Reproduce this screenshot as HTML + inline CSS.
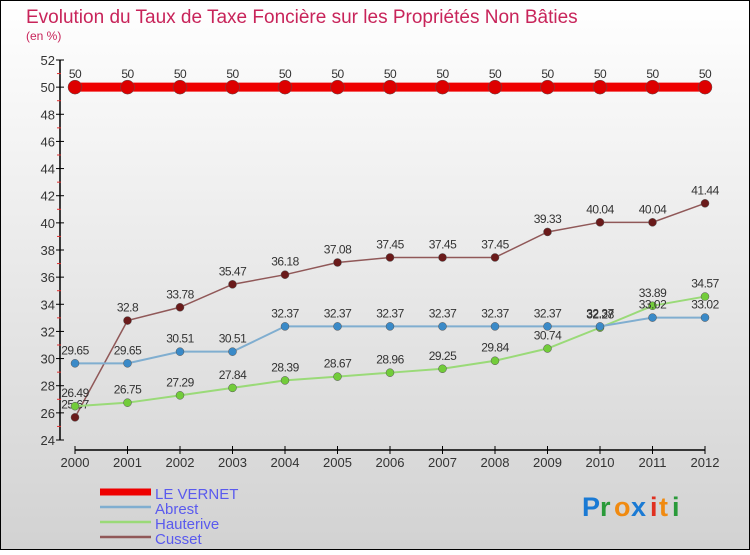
<!DOCTYPE html>
<html><head><meta charset="utf-8">
<style>
html,body{margin:0;padding:0}
body{width:750px;height:550px;overflow:hidden;font-family:"Liberation Sans",sans-serif}
svg text{font-family:"Liberation Sans",sans-serif}
</style></head>
<body>
<svg id="chart" width="750" height="550" xmlns="http://www.w3.org/2000/svg">
<defs><linearGradient id="bg" x1="0" y1="0" x2="0" y2="1"><stop offset="0" stop-color="#ffffff"/><stop offset="1" stop-color="#d2d2d2"/></linearGradient></defs>
<rect x="0.5" y="0.5" width="749" height="549" fill="url(#bg)" stroke="#000"/>
<text x="26" y="23" font-size="19" fill="#c8245a">Evolution du Taux de Taxe Foncière sur les Propriétés Non Bâties</text>
<text x="26" y="40" font-size="12" fill="#c8245a">(en %)</text>
<g id="axes"></g><g id="series"></g><g id="legend"></g>
<g font-size="27" font-weight="bold">
<text x="582" y="516" fill="#1a7ad4">P</text><text x="600" y="516" fill="#2a9a3a">r</text><text x="614" y="516" fill="#f08a10">o</text><text x="631" y="516" fill="#1a7ad4">x</text><text x="650" y="516" fill="#e03020">i</text><text x="659" y="516" fill="#f08a10">t</text><text x="672" y="516" fill="#2a9a3a">i</text>
</g>
</svg>
<script>
const years=[2000,2001,2002,2003,2004,2005,2006,2007,2008,2009,2010,2011,2012];
const leVernet=[50,50,50,50,50,50,50,50,50,50,50,50,50];
const abrest=[29.65,29.65,30.51,30.51,32.37,32.37,32.37,32.37,32.37,32.37,32.37,33.02,33.02];
const hauterive=[26.49,26.75,27.29,27.84,28.39,28.67,28.96,29.25,29.84,30.74,32.28,33.89,34.57];
const cusset=[25.67,32.8,33.78,35.47,36.18,37.08,37.45,37.45,37.45,39.33,40.04,40.04,41.44];
const yTicks=[24,26,28,30,32,34,36,38,40,42,44,46,48,50,52];
const NS="http://www.w3.org/2000/svg";
function X(i){return 75+i*52.5;}
function Y(v){return 440-(v-24)*(380/28);}
function mk(tag,attrs,parent){const e=document.createElementNS(NS,tag);for(const k in attrs)e.setAttribute(k,attrs[k]);parent.appendChild(e);return e;}
const axes=document.getElementById('axes');
let yl=mk('line',{x1:60,y1:Y(52),x2:60,y2:Y(24),stroke:'#000','stroke-width':1.5},axes);


yTicks.forEach(t=>{
 mk('line',{x1:56,y1:Y(t),x2:64,y2:Y(t),stroke:'#000'},axes);
 if(t<52) mk('line',{x1:57,y1:Y(t+1),x2:61,y2:Y(t+1),stroke:'#e03030'},axes);
 const tx=mk('text',{x:55,y:Y(t)+5,'text-anchor':'end','font-size':13,fill:'#333'},axes);tx.textContent=t;
 
 
});
let xl=mk('line',{x1:X(0),y1:450,x2:X(12),y2:450,stroke:'#000','stroke-width':1.5},axes);


years.forEach((y,i)=>{
 mk('line',{x1:X(i),y1:446,x2:X(i),y2:454,stroke:'#000'},axes);
 const tx=mk('text',{x:X(i),y:467,'text-anchor':'middle','font-size':13,fill:'#333'},axes);tx.textContent=y;
 
 
});
const S=[
 {name:'le-vernet',data:leVernet,color:'#ee0000',w:9,r:7,dot:'#dd0000',lbl:'LE VERNET'},
 {name:'abrest',data:abrest,color:'#80aed0',w:2,r:4,dot:'#3a8ac8',lbl:'Abrest'},
 {name:'hauterive',data:hauterive,color:'#9ada78',w:2,r:4,dot:'#72cc3a',lbl:'Hauterive'},
 {name:'cusset',data:cusset,color:'#905858',w:1.5,r:4,dot:'#6a1a1a',lbl:'Cusset'}
];
const sg=document.getElementById('series');
S.slice().reverse().forEach(s=>{
 const g=mk('g',{},sg);
 
 
 const pts=s.data.map((v,i)=>X(i)+','+Y(v)).join(' ');
 const pl=mk('polyline',{points:pts,fill:'none',stroke:s.color,'stroke-width':s.w},g);
 
 
 s.data.forEach((v,i)=>{
  const c=mk('circle',{cx:X(i),cy:Y(v),r:s.r,fill:s.dot,stroke:'#555','stroke-width':0.5},g);
  
  
  const t=mk('text',{x:X(i),y:Y(v)-9,'text-anchor':'middle','font-size':12,fill:'#333','letter-spacing':'-0.5'},g);
  t.textContent=String(v);
  
  
 });
});
const lg=document.getElementById('legend');
S.forEach((s,i)=>{
 const y=492+i*15;
 const g=mk('g',{},lg);
 
 
 mk('line',{x1:100,y1:y,x2:151,y2:y,stroke:s.color,'stroke-width':i==0?7:2.5},g);
 const t=mk('text',{x:155,y:y+7,'font-size':15,fill:'#5a5aee'},g);t.textContent=s.lbl;
});
</script>
</body></html>
